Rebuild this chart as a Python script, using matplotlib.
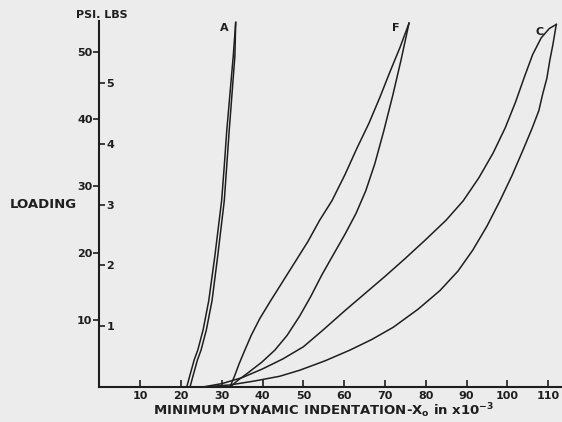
import numpy as np
import matplotlib
matplotlib.use("Agg")
import matplotlib.pyplot as plt

# loading/unloading loops (x in 1e-3, y in psi)
a_left_x = [21.4, 22.2, 23.2, 24.1, 25.4, 26.8, 28.3, 29.95, 30.6, 31.2, 32.0, 32.8, 33.4]
a_left_y = [0.0, 1.8, 4.0, 5.5, 8.5, 12.9, 19.6, 27.8, 33.0, 38.2, 43.8, 49.4, 54.4]
a_right_x = [22.2, 23.0, 24.0, 24.9, 26.2, 27.6, 29.0, 30.6, 31.2, 31.8, 32.5, 33.2, 33.4]
a_right_y = [0.0, 1.8, 4.0, 5.5, 8.5, 12.9, 19.6, 27.8, 33.0, 38.2, 43.8, 49.4, 54.4]

f_left_x = [32.0, 33.1, 34.2, 35.5, 37.2, 39.3, 42.0, 45.0, 47.9, 51.1, 54.0,
            57.0, 60.2, 63.1, 66.1, 68.8, 71.2, 73.7, 75.9]
f_left_y = [0.0, 1.6, 3.4, 5.3, 7.7, 10.2, 12.9, 15.8, 18.6, 21.7, 24.9,
            27.8, 31.7, 35.6, 39.4, 43.3, 47.0, 50.7, 54.3]
f_right_x = [32.0, 33.95, 36.4, 39.8, 43.0, 46.0, 49.1, 51.8, 54.5, 57.2, 60.2,
             62.9, 65.3, 67.5, 69.7, 71.9, 73.9, 75.9]
f_right_y = [0.0, 1.0, 2.1, 3.7, 5.5, 7.7, 10.6, 13.5, 16.7, 19.6, 22.8,
             25.9, 29.3, 33.3, 38.2, 43.5, 48.7, 54.3]

c_left_x = [25.4, 30, 35, 40, 45, 50, 55, 60, 65, 70, 75, 80, 85, 89.2,
            93, 96.5, 99.5, 102, 104.2, 106.2, 108.3, 110.3, 112.0]
c_left_y = [0.0, 0.5, 1.4, 2.7, 4.2, 6.0, 8.6, 11.3, 13.9, 16.5, 19.2, 22.0,
            24.9, 27.8, 31.2, 34.9, 38.7, 42.5, 46.3, 49.6, 52.1, 53.5, 54.1]
c_right_x = [25.4, 32.0, 38.1, 44.2, 49.1, 55.3, 61.4, 66.8, 72.0, 78.1, 83.5,
             87.9, 91.5, 95.0, 98.2, 101.1, 103.8, 106.0, 107.7, 108.7, 109.7,
             110.4, 111.2, 112.0]
c_right_y = [0.0, 0.3, 0.9, 1.6, 2.5, 3.9, 5.5, 7.1, 8.9, 11.6, 14.4, 17.3,
             20.4, 24.0, 27.8, 31.5, 35.3, 38.5, 41.2, 43.8, 46.1, 48.7, 51.2, 54.1]

curve_labels = ["A", "F", "C"]
label_x = [30.6, 72.6, 107.9]
label_y = [53.6, 53.6, 53.0]

x_ticks = [10, 20, 30, 40, 50, 60, 70, 80, 90, 100, 110]
psi_ticks = [10, 20, 30, 40, 50]
lbs_ticks = [1, 2, 3, 4, 5]
PSI_PER_LB = 9.07

BG = "#ececec"
INK = "#1e1e1e"

fig = plt.figure(figsize=(5.62, 4.22), dpi=100, facecolor=BG)
ax = fig.add_axes([0.177, 0.083, 0.823, 0.867])
ax.set_facecolor(BG)

for xs, ys in [(a_left_x, a_left_y), (a_right_x, a_right_y),
               (f_left_x, f_left_y), (f_right_x, f_right_y),
               (c_left_x, c_left_y), (c_right_x, c_right_y)]:
    ax.plot(xs, ys, color=INK, lw=1.1, solid_joinstyle="round")

for lab, lx, ly in zip(curve_labels, label_x, label_y):
    ax.text(lx, ly, lab, ha="center", va="center", fontsize=8,
            fontweight="bold", color=INK)

ymax = 54.6
ax.set_xlim(0, 113.4)
ax.set_ylim(0, ymax)
for s in ["top", "right"]:
    ax.spines[s].set_visible(False)
for s in ["left", "bottom"]:
    ax.spines[s].set_color(INK)
    ax.spines[s].set_linewidth(1.5)

ax.set_xticks(x_ticks)
ax.set_xticklabels([str(t) for t in x_ticks])
ax.tick_params(axis="x", direction="in", length=5, width=1.2, colors=INK,
               labelsize=8, pad=3)
ax.set_yticks(psi_ticks)
ax.tick_params(axis="y", direction="out", length=4, width=1.2, colors=INK,
               labelsize=8, pad=1)
for lab in ax.get_xticklabels() + ax.get_yticklabels():
    lab.set_fontweight("bold")

# pounds scale drawn on the same spine, ticks and labels to the right
ax2 = ax.twinx()
ax2.set_ylim(0, ymax / PSI_PER_LB)
ax2.spines["right"].set_position(("axes", 0))
for s in ["top", "left", "bottom", "right"]:
    ax2.spines[s].set_visible(False)
ax2.set_yticks(lbs_ticks)
ax2.tick_params(axis="y", direction="out", length=4, width=1.2, colors=INK,
                labelsize=8, pad=1)
for lab in ax2.get_yticklabels():
    lab.set_fontweight("bold")

fig.text(128 / 562, 1 - 15 / 422, "PSI. LBS", ha="right", va="center",
         fontsize=8, fontweight="bold", color=INK)
fig.text(10 / 562, 1 - 205 / 422, "LOADING", ha="left", va="center",
         fontsize=9.5, fontweight="bold", color=INK)
fig.text(153 / 562, 1 - 411 / 422,
         r"MINIMUM DYNAMIC INDENTATION-X$_\mathregular{o}$ in x10$^\mathregular{-3}$",
         ha="left", va="center", fontsize=9.5, fontweight="bold", color=INK)

fig.savefig("out.png", dpi=100, facecolor=BG)
